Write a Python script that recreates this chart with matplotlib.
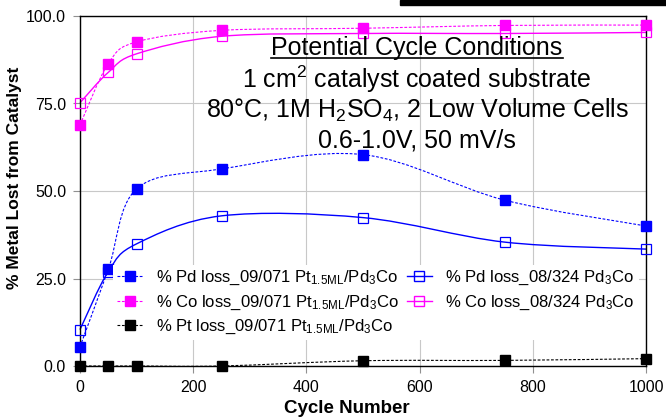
import numpy as np
import matplotlib
matplotlib.use("Agg")
import matplotlib.pyplot as plt
from matplotlib.path import Path
from matplotlib.patches import PathPatch, Rectangle
from matplotlib.lines import Line2D

plt.rcParams['font.family'] = ['Liberation Sans', 'DejaVu Sans']
plt.rcParams['mathtext.default'] = 'regular'

# cycle number vs % metal lost
cycles = [0, 50, 100, 250, 500, 750, 1000]
pd_071 = [5.5, 27.6, 50.6, 56.3, 60.4, 47.4, 40.0]
co_071 = [68.9, 86.4, 92.6, 95.9, 96.5, 97.3, 97.4]
pt_071 = [0.0, 0.0, 0.0, 0.0, 1.5, 1.6, 2.1]
pd_324 = [10.4, 27.0, 34.9, 42.9, 42.4, 35.4, 33.4]
co_324 = [75.2, 83.9, 89.2, 94.2, 95.0, 95.0, 95.3]

lab_071 = ' loss_09/071 Pt$_{1.5ML}$/Pd$_3$Co'
lab_324 = ' loss_08/324 Pd$_3$Co'

BLUE = '#0000ff'
MAG = '#ff00ff'


def smooth_path(x, y):
    # excel-style smoothed line: bezier segments, catmull-rom tangents
    p = np.column_stack([x, y]).astype(float)
    ext = np.vstack([p[0], p, p[-1]])
    verts = [p[0]]
    codes = [Path.MOVETO]
    for i in range(len(p) - 1):
        c1 = ext[i + 1] + (ext[i + 2] - ext[i]) / 6
        c2 = ext[i + 2] - (ext[i + 3] - ext[i + 1]) / 6
        verts += [c1, c2, p[i + 1]]
        codes += [Path.CURVE4] * 3
    return Path(verts, codes)


fig = plt.figure(figsize=(6.66, 4.19), dpi=100)
ax = fig.add_axes([80 / 666, 1 - 366 / 419, 566 / 666, 350 / 419])

ax.set_xlim(0, 1000)
ax.set_ylim(0, 100)
ax.set_xticks([0, 200, 400, 600, 800, 1000])
ax.set_yticks([0, 25, 50, 75, 100])
ax.set_yticklabels(['%.1f' % v for v in [0, 25, 50, 75, 100]])
ax.grid(True, color='#c8c8c8', lw=0.8)
ax.set_axisbelow(True)
ax.tick_params(direction='out', length=5, width=0.8, color='#909090',
               labelsize=11.5, pad=5)
for s in ax.spines.values():
    s.set_color('black')
    s.set_linewidth(1.0)

series = [
    (pd_324, BLUE, '-', False),
    (co_324, MAG, '-', False),
    (pd_071, BLUE, (0, (2.5, 1.5)), True),
    (co_071, MAG, (0, (2.5, 1.5)), True),
    (pt_071, 'black', (0, (2.5, 1.5)), True),
]
for ys, col, ls, filled in series:
    lw = 0.8 if filled else 1.0
    ax.add_patch(PathPatch(smooth_path(cycles, ys), fill=False, edgecolor=col,
                           lw=lw, linestyle=ls, clip_on=False))
    if filled:
        ax.plot(cycles, ys, ls='none', marker='s', ms=6.5, mfc=col, mec=col,
                clip_on=False, zorder=4)
    else:
        ax.plot(cycles, ys, ls='none', marker='s', ms=7.5, mfc='none', mec=col,
                mew=0.9, clip_on=False, zorder=3)

dash = (0, (2.5, 1.5))
handles = [
    Line2D([], [], color=BLUE, ls=dash, lw=0.8, marker='s', ms=7, mfc=BLUE, mec=BLUE),
    Line2D([], [], color=MAG, ls=dash, lw=0.8, marker='s', ms=7, mfc=MAG, mec=MAG),
    Line2D([], [], color='black', ls=dash, lw=0.8, marker='s', ms=7, mfc='black', mec='black'),
    Line2D([], [], color=BLUE, ls='-', lw=1.0, marker='s', ms=7.5, mfc='none', mec=BLUE),
    Line2D([], [], color=MAG, ls='-', lw=1.0, marker='s', ms=7.5, mfc='none', mec=MAG),
]
labels = ['% Pd' + lab_071, '% Co' + lab_071, '% Pt' + lab_071,
          '% Pd' + lab_324, '% Co' + lab_324]
leg = ax.legend(handles, labels, ncol=2, loc='upper left',
                bbox_to_anchor=(113 / 666, 1 - 265 / 419),
                bbox_transform=fig.transFigure, fontsize=12,
                frameon=True, fancybox=False, framealpha=1,
                edgecolor='none', facecolor='white', borderpad=0.25,
                handlelength=1.5, handletextpad=0.8, columnspacing=0.5,
                labelspacing=0.35, borderaxespad=0)
leg.set_zorder(5)

# conditions block
cx = 417 / 666
lines = ['Potential Cycle Conditions',
         '1 cm$^2$ catalyst coated substrate',
         '80\u00b0C, 1M H$_2$SO$_4$, 2 Low Volume Cells',
         '0.6-1.0V, 50 mV/s']
ypix = [48, 79, 110, 140]
txts = []
for s, yp in zip(lines, ypix):
    txts.append(fig.text(cx, 1 - yp / 419, s, ha='center', va='center', fontsize=18))

fig.text(15 / 666, 1 - 178 / 419, '% Metal Lost from Catalyst', rotation=90,
         ha='center', va='center', fontsize=12.5, fontweight='bold')
fig.text(347 / 666, 1 - 408 / 419, 'Cycle Number', ha='center', va='center',
         fontsize=13.5, fontweight='bold')

fig.patches.append(Rectangle((400 / 666, 1 - 5 / 419), 266 / 666, 5 / 419,
                             transform=fig.transFigure, color='black'))

# underline the heading
fig.canvas.draw()
bb = txts[0].get_window_extent(fig.canvas.get_renderer())
uy = (bb.y0 + 1.5) / fig.bbox.height
fig.add_artist(Line2D([bb.x0 / fig.bbox.width, bb.x1 / fig.bbox.width], [uy, uy],
                      transform=fig.transFigure, color='black', lw=1.2))

fig.savefig('out.png', dpi=100)
